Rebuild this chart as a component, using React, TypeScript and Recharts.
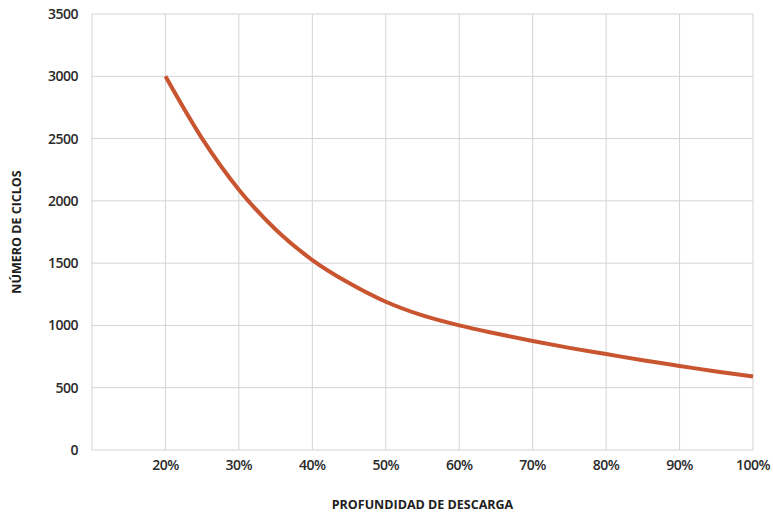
import { CartesianGrid, Line, LineChart, XAxis, YAxis } from "recharts";

const depthPct = [20, 25, 30, 35, 40, 45, 50, 55, 60, 65, 70, 75, 80, 85, 90, 95, 100];
const cycles = [3000, 2500, 2090, 1770, 1525, 1340, 1190, 1080, 1000, 935, 875, 820, 770, 720, 675, 630, 590];

const xTicks = [10, 20, 30, 40, 50, 60, 70, 80, 90, 100];
const yTicks = [0, 500, 1000, 1500, 2000, 2500, 3000, 3500];

const data = depthPct.map((d, i) => ({ depth: d, cycles: cycles[i] }));

const font = "'Open Sans', 'DejaVu Sans', sans-serif";

export default function App() {
  return (
    <div style={{ position: "absolute", left: 0, top: 0, width: 773, height: 513, background: "#fff" }}>
      <LineChart width={773} height={513} data={data} margin={{ top: 14, right: 20, left: 0, bottom: 0 }}>
        <CartesianGrid stroke="#d4d4d4" strokeWidth={1} />
        <XAxis
          dataKey="depth"
          type="number"
          domain={[10, 100]}
          ticks={xTicks}
          tickFormatter={(v) => (v === 10 ? "" : `${v}%`)}
          axisLine={false}
          tickLine={false}
          tickSize={0}
          tickMargin={10}
          height={63}
          tick={{ fill: "#2a2a2a", fontSize: 14, fontWeight: 600, fontFamily: font, letterSpacing: -0.5 }}
          label={{
            value: "PROFUNDIDAD DE DESCARGA",
            position: "insideBottom",
            offset: 4,
            style: { fill: "#1e1e1e", fontSize: 12.5, fontWeight: 700, fontFamily: font },
          }}
        />
        <YAxis
          type="number"
          domain={[0, 3500]}
          ticks={yTicks}
          axisLine={false}
          tickLine={false}
          tickSize={0}
          tickMargin={14}
          width={92}
          tick={{ fill: "#2a2a2a", fontSize: 14, fontWeight: 600, fontFamily: font, letterSpacing: -0.5 }}
          label={{
            value: "NÚMERO DE CICLOS",
            angle: -90,
            position: "insideLeft",
            offset: 17,
            style: { textAnchor: "middle", fill: "#1e1e1e", fontSize: 12.5, fontWeight: 700, fontFamily: font },
          }}
        />
        <Line
          type="monotone"
          dataKey="cycles"
          stroke="#c8552f"
          strokeWidth={4}
          dot={false}
          isAnimationActive={false}
        />
      </LineChart>
    </div>
  );
}
